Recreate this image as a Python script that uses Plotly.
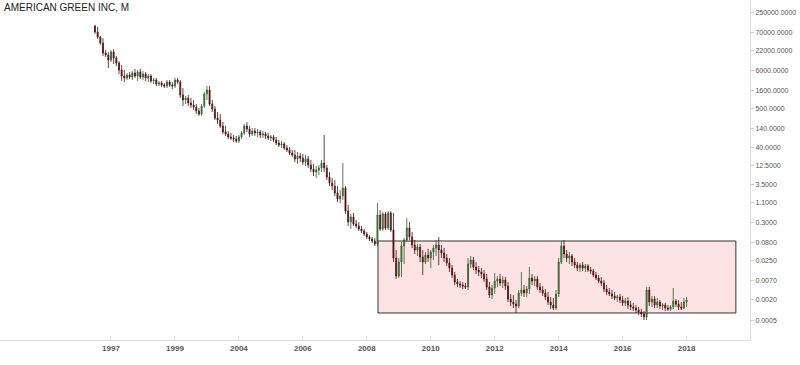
import plotly.graph_objects as go

title_text = "AMERICAN GREEN INC, M"

# monthly bar index (mid-1996 .. early 2018)
bar_index = list(range(223))

open_ = [
    107000, 72600, 52500, 35500, 18500, 16300, 11800, 19800, 13400, 9670,
    6130, 4150, 3640, 4430, 3890, 5050, 4150, 5380, 3890, 4730,
    3640, 4150, 3000, 3200, 2470, 2630, 2310, 2170, 2810, 2310,
    2170, 3200, 2810, 1210, 871, 992, 717, 629, 553, 426,
    351, 590, 1290, 1670, 672, 485, 270, 237, 161, 109,
    95.4, 78.5, 73.6, 68.9, 60.5, 78.5, 102, 161, 132, 95.4,
    116, 102, 109, 89.4, 95.4, 83.8, 73.6, 78.5, 64.6, 53.1,
    46.7, 49.8, 38.4, 33.7, 27.7, 24.4, 18.8, 22.8, 20.0, 15.4,
    18.8, 12.7, 9.80, 8.06, 9.18, 10.5, 14.5, 10.5, 5.82, 3.94,
    3.24, 2.06, 1.39, 1.69, 2.85, 0.638, 0.312, 0.432, 0.274, 0.240,
    0.198, 0.174, 0.143, 0.118, 0.103, 0.0906, 0.0745, 0.492, 0.198, 0.525,
    0.211, 0.560, 0.185, 0.0300, 0.00929, 0.0231, 0.0654, 0.0967, 0.211, 0.118,
    0.0698, 0.0504, 0.0613, 0.0320, 0.0231, 0.0364, 0.0300, 0.0443, 0.0574, 0.0698,
    0.0504, 0.0415, 0.0300, 0.0217, 0.0156, 0.00992, 0.00629, 0.00552, 0.00518, 0.00485,
    0.00455, 0.0203, 0.0263, 0.0167, 0.0137, 0.0121, 0.0106, 0.00765, 0.00455, 0.00270,
    0.00426, 0.00671, 0.00765, 0.00590, 0.00717, 0.00485, 0.00208, 0.00171, 0.00150, 0.00132,
    0.00308, 0.00374, 0.00308, 0.00399, 0.00816, 0.00671, 0.00765, 0.00455, 0.00374, 0.00308,
    0.00237, 0.00171, 0.00141, 0.00116, 0.00288, 0.0231, 0.0654, 0.0389, 0.0300, 0.0341,
    0.0231, 0.0190, 0.0156, 0.0190, 0.0156, 0.0178, 0.0137, 0.0129, 0.00992, 0.00816,
    0.00671, 0.00590, 0.00399, 0.00328, 0.00288, 0.00253, 0.00222, 0.00237, 0.00195, 0.00161,
    0.00183, 0.00141, 0.00124, 0.00116, 0.00102, 0.000894, 0.000785, 0.000646, 0.00374, 0.00171,
    0.00208, 0.00141, 0.00171, 0.00132, 0.00141, 0.00116, 0.00109, 0.00124, 0.00183, 0.00150,
    0.00124, 0.00116, 0.00171,
]

high = [
    115000, 101000, 56000, 49100, 22500, 19800, 22500, 24000, 15200, 11000,
    8490, 6130, 5050, 5380, 5750, 6540, 6130, 6540, 5750, 5380,
    4730, 4730, 3640, 3640, 3000, 3000, 2630, 3200, 3200, 2810,
    3640, 3640, 3200, 1900, 1130, 1210, 992, 871, 672, 518,
    672, 1470, 2170, 2170, 871, 590, 399, 351, 208, 161,
    116, 102, 89.4, 83.8, 89.4, 116, 183, 208, 161, 141,
    141, 132, 124, 116, 109, 102, 89.4, 89.4, 78.5, 64.6,
    60.5, 56.7, 46.7, 41.0, 33.7, 33.7, 29.6, 27.7, 26.0, 24.4,
    22.8, 17.6, 13.6, 11.9, 12.7, 17.6, 89.4, 12.7, 8.06, 5.45,
    4.79, 3.24, 2.50, 14.5, 3.24, 0.942, 0.525, 0.560, 0.355, 0.312,
    0.240, 0.198, 0.163, 0.134, 0.118, 0.110, 1.07, 0.681, 0.597, 0.597,
    0.638, 0.638, 0.560, 0.0504, 0.0300, 0.0849, 0.110, 0.404, 0.312, 0.163,
    0.0967, 0.0745, 0.0745, 0.0504, 0.0443, 0.0538, 0.0504, 0.0698, 0.0967, 0.118,
    0.0698, 0.0574, 0.0389, 0.0300, 0.0190, 0.0121, 0.00765, 0.00671, 0.00629, 0.00590,
    0.0300, 0.0341, 0.0320, 0.0231, 0.0178, 0.0156, 0.0137, 0.0106, 0.00629, 0.00518,
    0.0113, 0.00929, 0.0106, 0.00929, 0.00871, 0.00629, 0.00288, 0.00270, 0.00195, 0.00374,
    0.0121, 0.00518, 0.00485, 0.0167, 0.0106, 0.00929, 0.00929, 0.00590, 0.00485, 0.00399,
    0.00328, 0.00237, 0.00222, 0.00374, 0.0300, 0.0906, 0.0967, 0.0504, 0.0443, 0.0389,
    0.0300, 0.0231, 0.0217, 0.0231, 0.0203, 0.0203, 0.0167, 0.0147, 0.0121, 0.00992,
    0.00871, 0.00717, 0.00518, 0.00426, 0.00374, 0.00328, 0.00270, 0.00288, 0.00253, 0.00222,
    0.00237, 0.00183, 0.00161, 0.00141, 0.00124, 0.00109, 0.000954, 0.00455, 0.00455, 0.00253,
    0.00253, 0.00222, 0.00195, 0.00161, 0.00161, 0.00141, 0.00141, 0.00426, 0.00208, 0.00195,
    0.00171, 0.00222, 0.00237,
]

low = [
    63800, 46100, 31200, 15200, 14300, 6980, 10300, 9060, 7950, 4730,
    3000, 2810, 3200, 3420, 3200, 3640, 3000, 3420, 3200, 3000,
    2810, 2630, 2470, 2170, 2170, 2030, 1900, 1900, 2030, 1780,
    1900, 2470, 992, 590, 672, 590, 518, 455, 351, 308,
    308, 518, 871, 590, 399, 237, 183, 141, 95.4, 83.8,
    68.9, 64.6, 56.7, 53.1, 53.1, 68.9, 89.4, 109, 78.5, 83.8,
    83.8, 78.5, 73.6, 73.6, 68.9, 64.6, 60.5, 56.7, 46.7, 41.0,
    38.4, 33.7, 29.6, 24.4, 21.4, 15.4, 13.6, 15.4, 12.7, 11.9,
    10.5, 8.06, 6.21, 5.45, 6.63, 8.06, 8.06, 4.79, 3.24, 2.50,
    1.69, 1.14, 1.07, 1.30, 0.525, 0.240, 0.198, 0.240, 0.211, 0.174,
    0.152, 0.125, 0.103, 0.0906, 0.0795, 0.0654, 0.0654, 0.174, 0.174, 0.185,
    0.185, 0.163, 0.0231, 0.00765, 0.00816, 0.00871, 0.0203, 0.0849, 0.0967, 0.0574,
    0.0389, 0.0341, 0.0231, 0.00992, 0.0203, 0.0231, 0.0156, 0.0263, 0.0341, 0.0190,
    0.0300, 0.0231, 0.0178, 0.0121, 0.00816, 0.00518, 0.00455, 0.00426, 0.00399, 0.00399,
    0.00374, 0.0156, 0.0137, 0.0106, 0.00929, 0.00816, 0.00629, 0.00374, 0.00222, 0.00208,
    0.00288, 0.00455, 0.00485, 0.00426, 0.00374, 0.00171, 0.00132, 0.00116, 0.000838, 0.00116,
    0.00253, 0.00237, 0.00237, 0.00288, 0.00518, 0.00485, 0.00374, 0.00308, 0.00253, 0.00195,
    0.00141, 0.00109, 0.00102, 0.00102, 0.00237, 0.0203, 0.0300, 0.0231, 0.0203, 0.0178,
    0.0156, 0.0129, 0.0121, 0.0129, 0.0121, 0.0121, 0.0106, 0.00871, 0.00717, 0.00590,
    0.00485, 0.00328, 0.00270, 0.00253, 0.00208, 0.00195, 0.00171, 0.00161, 0.00132, 0.00132,
    0.00109, 0.00102, 0.000954, 0.000838, 0.000735, 0.000646, 0.000531, 0.000531, 0.00132, 0.00124,
    0.00116, 0.00116, 0.00109, 0.00102, 0.000954, 0.000954, 0.000954, 0.00109, 0.00124, 0.00102,
    0.00102, 0.00109, 0.00124,
]

close = [
    72600, 52500, 35500, 18500, 16300, 11800, 19800, 13400, 9670, 6130,
    4150, 3640, 4430, 3890, 5050, 4150, 5380, 3890, 4730, 3640,
    4150, 3000, 3200, 2470, 2630, 2310, 2170, 2810, 2310, 2170,
    3200, 2810, 1210, 871, 992, 717, 629, 553, 426, 351,
    590, 1290, 1670, 672, 485, 270, 237, 161, 109, 95.4,
    78.5, 73.6, 68.9, 60.5, 78.5, 102, 161, 132, 95.4, 116,
    102, 109, 89.4, 95.4, 83.8, 73.6, 78.5, 64.6, 53.1, 46.7,
    49.8, 38.4, 33.7, 27.7, 24.4, 18.8, 22.8, 20.0, 15.4, 18.8,
    12.7, 9.80, 8.06, 9.18, 10.5, 14.5, 10.5, 5.82, 3.94, 3.24,
    2.06, 1.39, 1.69, 2.85, 0.638, 0.312, 0.432, 0.274, 0.240, 0.198,
    0.174, 0.143, 0.118, 0.103, 0.0906, 0.0745, 0.492, 0.198, 0.525, 0.211,
    0.560, 0.185, 0.0300, 0.00929, 0.0231, 0.0654, 0.0967, 0.211, 0.118, 0.0698,
    0.0504, 0.0613, 0.0320, 0.0231, 0.0364, 0.0300, 0.0443, 0.0574, 0.0698, 0.0504,
    0.0415, 0.0300, 0.0217, 0.0156, 0.00992, 0.00629, 0.00552, 0.00518, 0.00485, 0.00455,
    0.0203, 0.0263, 0.0167, 0.0137, 0.0121, 0.0106, 0.00765, 0.00455, 0.00270, 0.00426,
    0.00671, 0.00765, 0.00590, 0.00717, 0.00485, 0.00208, 0.00171, 0.00150, 0.00132, 0.00308,
    0.00374, 0.00308, 0.00399, 0.00816, 0.00671, 0.00765, 0.00455, 0.00374, 0.00308, 0.00237,
    0.00171, 0.00141, 0.00116, 0.00288, 0.0231, 0.0654, 0.0389, 0.0300, 0.0341, 0.0231,
    0.0190, 0.0156, 0.0190, 0.0156, 0.0178, 0.0137, 0.0129, 0.00992, 0.00816, 0.00671,
    0.00590, 0.00399, 0.00328, 0.00288, 0.00253, 0.00222, 0.00237, 0.00195, 0.00161, 0.00183,
    0.00141, 0.00124, 0.00116, 0.00102, 0.000894, 0.000785, 0.000646, 0.00374, 0.00171, 0.00208,
    0.00141, 0.00171, 0.00132, 0.00141, 0.00116, 0.00109, 0.00124, 0.00183, 0.00150, 0.00124,
    0.00116, 0.00171, 0.00195,
]

x_tick_pos = [6, 30, 54, 78, 102, 126, 150, 174, 198, 222]
x_tick_labels = ["1997", "1999", "2004", "2006", "2008", "2010", "2012", "2014", "2016", "2018"]

y_tick_vals = [250000, 70000, 22000, 6000, 1600, 500, 140, 40, 12.5, 3.5, 1.1,
               0.3, 0.08, 0.025, 0.007, 0.002, 0.0005]
y_tick_labels = ["250000.0000", "70000.0000", "22000.0000", "6000.0000", "1600.0000",
                 "500.0000", "140.0000", "40.0000", "12.5000", "3.5000", "1.1000",
                 "0.3000", "0.0800", "0.0250", "0.0070", "0.0020", "0.0005"]

# highlighted consolidation box (bar index span, price span)
box_x = [106.2, 240.5]
box_y = [0.00084, 0.0906]

n = len(bar_index)
assert len(open_) == n and len(high) == n and len(low) == n and len(close) == n

fig = go.Figure()
fig.add_trace(go.Candlestick(
    x=bar_index, open=open_, high=high, low=low, close=close,
    increasing=dict(line=dict(color="#2f5a2a", width=0.8), fillcolor="#5a9150"),
    decreasing=dict(line=dict(color="#4a1010", width=0.8), fillcolor="#6e2020"),
    whiskerwidth=0, showlegend=False, hoverinfo="skip",
))

fig.add_shape(type="rect", xref="x", yref="y",
              x0=box_x[0], x1=box_x[1], y0=box_y[0], y1=box_y[1],
              fillcolor="#fde3e3", line=dict(color="#333333", width=1), layer="below")

fig.add_annotation(text=title_text, xref="paper", yref="paper", x=0.003, y=1.0,
                   xanchor="left", yanchor="top", showarrow=False,
                   font=dict(family="Liberation Sans, Arial, sans-serif", size=10, color="#222222"))

fig.update_layout(
    width=800, height=365,
    margin=dict(l=0, r=50, t=0, b=25),
    paper_bgcolor="white", plot_bgcolor="white",
    boxgap=0.45,
    font=dict(family="Liberation Sans, Arial, sans-serif"),
    xaxis=dict(
        range=[-35.65, 245.8], rangeslider=dict(visible=False),
        tickmode="array", tickvals=x_tick_pos, ticktext=["<b>%s</b>" % t for t in x_tick_labels],
        tickfont=dict(size=8, color="#555555"),
        ticks="inside", ticklen=4, tickcolor="#dddddd",
        showline=True, linecolor="#dcdcdc", linewidth=1,
        showgrid=False, zeroline=False,
    ),
    yaxis=dict(
        type="log", side="right", range=[-3.839, 5.765],
        tickmode="array", tickvals=y_tick_vals, ticktext=y_tick_labels,
        tickfont=dict(size=7, color="#555555"),
        ticks="outside", ticklen=3, tickcolor="#cccccc",
        showline=True, linecolor="#dcdcdc", linewidth=1,
        showgrid=False, zeroline=False,
    ),
)

fig.write_html("out.html")
